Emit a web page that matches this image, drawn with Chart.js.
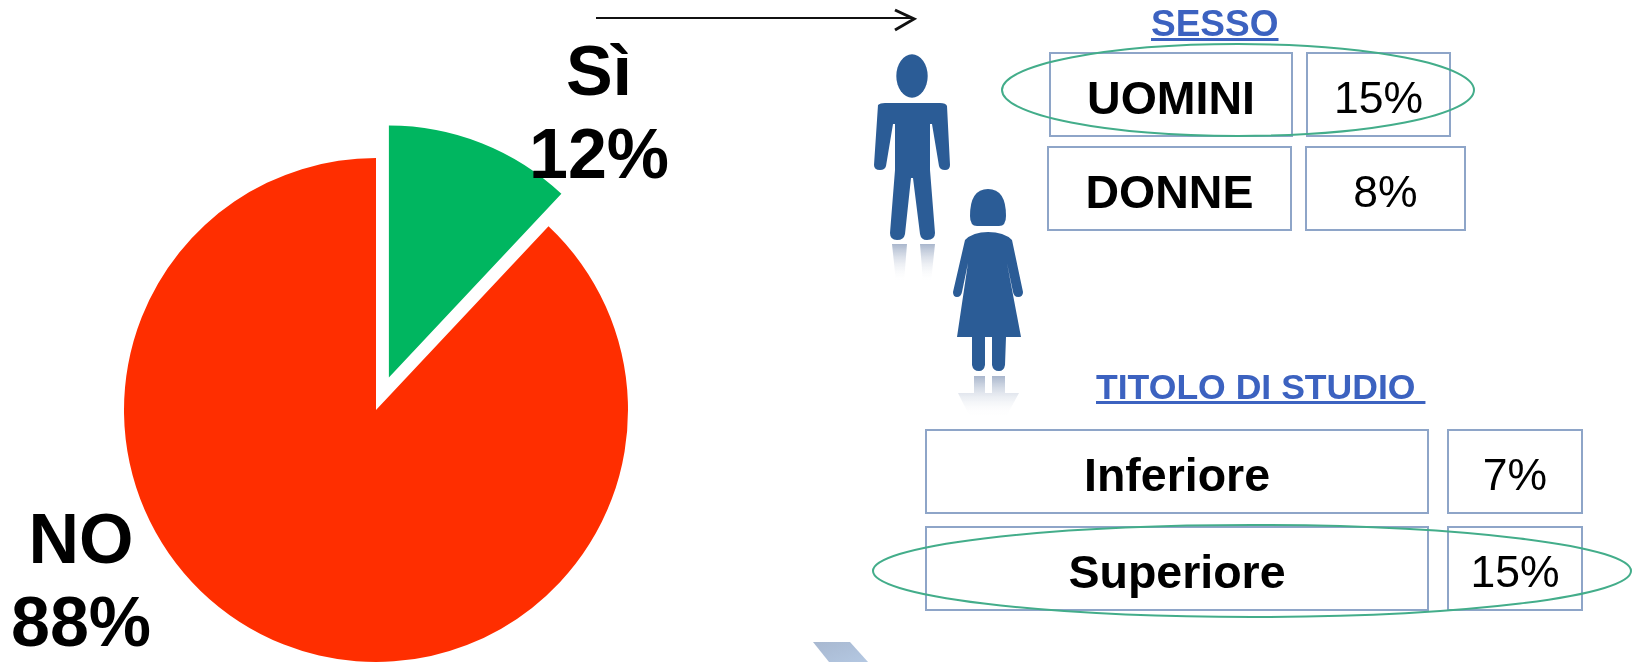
<!DOCTYPE html>
<html lang="it">
<head>
<meta charset="UTF-8" />
<title>Sì / NO</title>
<script src="https://cdn.jsdelivr.net/npm/chart.js@4"></script>
<style>
  html, body { margin: 0; width: 1639px; height: 662px; overflow: hidden; background: #fff; }
  body { position: relative; font-family: "Liberation Sans", Arial, sans-serif; color: #000; }
  #page { position: absolute; left: 0; top: 0; width: 1639px; height: 662px; filter: blur(0.5px); }
  #pie { position: absolute; left: 88px; top: 122px; }
  #art { position: absolute; left: 0; top: 0; }
  .pielabel { position: absolute; font-weight: bold; font-size: 70px; line-height: 83px; text-align: center; transform: translateX(-50%); white-space: nowrap; }
  .box { position: absolute; box-sizing: border-box; border: 2px solid #8ea5c8; padding-top: 6px; display: flex; align-items: center; justify-content: center; font-size: 44.5px; }
  .box.name { font-weight: bold; font-size: 46.5px; }
  .head { position: absolute; color: #3c62c0; font-weight: bold; text-decoration: underline; white-space: pre; }
</style>
</head>
<body>
<div id="page">
  <canvas id="pie" width="576" height="576"></canvas>

  <svg id="art" width="1639" height="662">
    <defs>
      <linearGradient id="fade" x1="0" y1="0" x2="0" y2="1">
        <stop offset="0" stop-color="#a9b6cc" />
        <stop offset="1" stop-color="#ffffff" stop-opacity="0" />
      </linearGradient>
      <linearGradient id="wedge" x1="0" y1="0" x2="1" y2="1">
        <stop offset="0" stop-color="#a8b8d0" />
        <stop offset="1" stop-color="#b4c8e2" />
      </linearGradient>
    </defs>

    <!-- freccia -->
    <line x1="596" y1="18" x2="913" y2="18" stroke="#111" stroke-width="2" />
    <polyline points="895,10 914,19 895,30" fill="none" stroke="#111" stroke-width="3" />

    <!-- uomo -->
    <g fill="#2b5c96">
      <ellipse cx="912" cy="76" rx="15.7" ry="21.7" />
      <path d="M878 105 Q880 103 885 103 H940 Q946 103 947 106 L950 165 Q950 170 945 170 Q940 170 939 166 L932 124 H930 V170 L935 233 Q935 240 927 240 Q921 240 920 234 L913 178 H911 L905 234 Q904 240 897 240 Q890 240 890 233 L895 170 V124 H893 L886 166 Q885 170 880 170 Q874 170 874 165 Z" />
    </g>
    <path d="M892 244 H907 L904 282 H896 Z M920 244 H935 L931 282 H923 Z" fill="url(#fade)" />

    <!-- donna -->
    <g fill="#2b5c96">
      <path d="M970 216 Q970 189 988 189 Q1006 189 1006 216 Q1006 226 999 226 H977 Q970 226 970 216 Z" />
      <path d="M988 232 Q1004 232 1012 240 L1023 292 Q1023 297 1018 297 Q1014 297 1013 292 L1007 263 L1021 337 H1006 L1005 365 Q1004 371 999 371 Q993 371 992 365 V337 H985 V365 Q984 371 979 371 Q973 371 972 365 V337 H957 L968 263 L962 292 Q961 297 957 297 Q953 297 953 292 L965 240 Q973 232 988 232 Z" />
    </g>
    <path d="M974 376 H985 V393 H992 V376 H1005 V393 H1019 L1006 417 H970 L958 393 H974 Z" fill="url(#fade)" />

    <!-- sfondo in basso -->
    <polygon points="813,642 850,642 868,662 829,662" fill="url(#wedge)" />
  </svg>

  <div class="pielabel" style="left:599px; top:30px;" id="labelSi"></div>
  <div class="pielabel" style="left:81px; top:498px;" id="labelNo"></div>

  <div class="head" style="left:1151px; top:3px; font-size:37px;" id="headSesso"></div>
  <div class="box name" style="left:1049px; top:52px; width:244px; height:85px;" id="s0"></div>
  <div class="box" style="left:1306px; top:52px; width:145px; height:85px;" id="sv0"></div>
  <div class="box name" style="left:1047px; top:146px; width:245px; height:85px;" id="s1"></div>
  <div class="box" style="left:1305px; top:146px; width:161px; height:85px;" id="sv1"></div>

  <div class="head" style="left:1096px; top:367px; font-size:35.6px;" id="headTitolo"></div>
  <div class="box name" style="left:925px; top:429px; width:504px; height:85px;" id="t0"></div>
  <div class="box" style="left:1447px; top:429px; width:136px; height:85px;" id="tv0"></div>
  <div class="box name" style="left:925px; top:526px; width:504px; height:85px;" id="t1"></div>
  <div class="box" style="left:1447px; top:526px; width:136px; height:85px;" id="tv1"></div>

  <svg id="rings" width="1639" height="662" style="position:absolute;left:0;top:0">
    <ellipse cx="1238" cy="90" rx="236" ry="46" fill="none" stroke="#43ad8a" stroke-width="2" />
    <ellipse cx="1252" cy="571" rx="379" ry="46" fill="none" stroke="#43ad8a" stroke-width="2" />
  </svg>
</div>

  <script>
    // dati
    var categories = ['Sì', 'NO'];
    var values = [12, 88];
    var sliceColors = ['#00b660', '#ff2e00'];
    var explode = [35, 0];

    var sessoTitle = 'SESSO';
    var sessoLabels = ['UOMINI', 'DONNE'];
    var sessoValues = [15, 8];

    var titoloTitle = 'TITOLO DI STUDIO ';
    var titoloLabels = ['Inferiore', 'Superiore'];
    var titoloValues = [7, 15];

    // etichette della torta
    document.getElementById('labelSi').innerHTML = categories[0] + '<br>' + values[0] + '%';
    document.getElementById('labelNo').innerHTML = categories[1] + '<br>' + values[1] + '%';

    // tabelle
    document.getElementById('headSesso').textContent = sessoTitle;
    document.getElementById('headTitolo').textContent = titoloTitle;
    for (var i = 0; i < 2; i++) {
      document.getElementById('s' + i).textContent = sessoLabels[i];
      document.getElementById('sv' + i).textContent = sessoValues[i] + '%';
      document.getElementById('t' + i).textContent = titoloLabels[i];
      document.getElementById('tv' + i).textContent = titoloValues[i] + '%';
    }

    // l'offset di Chart.js allarga anche lo spicchio, quindi lo sposto a mano
    var explodePlugin = {
      id: 'explode',
      afterDatasetsUpdate: function (chart) {
        chart.getDatasetMeta(0).data.forEach(function (arc, idx) {
          var mid = (arc.startAngle + arc.endAngle) / 2;
          arc.x += Math.cos(mid) * explode[idx];
          arc.y += Math.sin(mid) * explode[idx];
        });
      }
    };

    var ctx = document.getElementById('pie');
    var pieChart = new Chart(ctx, {
      type: 'pie',
      data: {
        labels: categories,
        datasets: [{
          data: values,
          backgroundColor: sliceColors,
          borderWidth: 0
        }]
      },
      options: {
        responsive: false,
        animation: false,
        layout: { padding: 36 },
        plugins: {
          legend: { display: false },
          tooltip: { enabled: false }
        }
      },
      plugins: [explodePlugin]
    });
  </script>
</body>
</html>
